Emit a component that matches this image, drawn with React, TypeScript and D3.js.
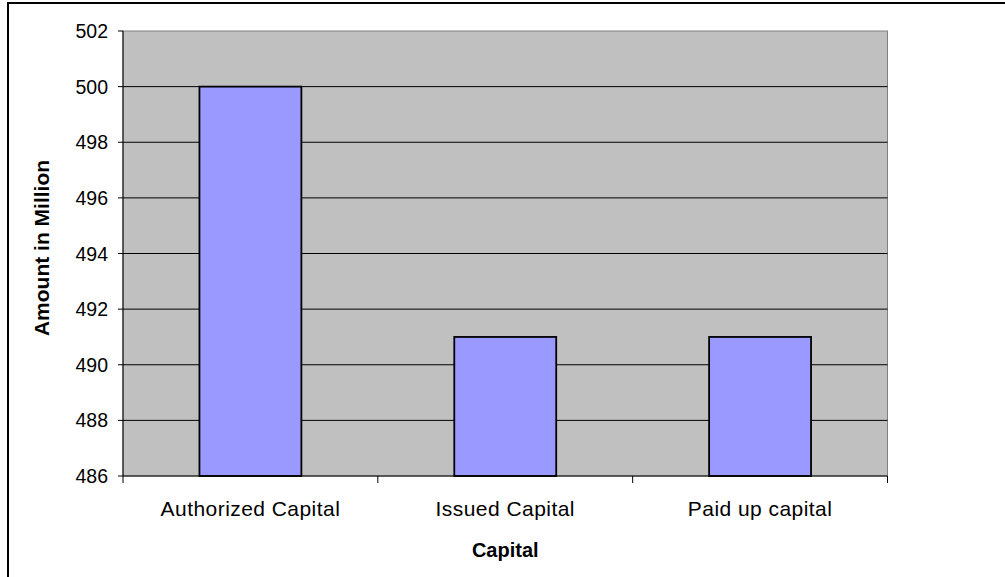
import React from "react";
import * as d3 from "d3";

const categories = ["Authorized Capital", "Issued Capital", "Paid up capital"];
const values = [500, 491, 491];
const yTicks = [486, 488, 490, 492, 494, 496, 498, 500, 502];
const yTitle = "Amount in Million";
const xTitle = "Capital";

const W = 1005;
const H = 577;
const plot = { left: 123, top: 31, right: 887.5, bottom: 476 };

export default function App() {
  const x = d3
    .scaleBand<string>()
    .domain(categories)
    .range([plot.left, plot.right])
    .padding(0);
  const y = d3.scaleLinear().domain([486, 502]).range([plot.bottom, plot.top]);
  const bw = x.bandwidth() * 0.4;
  const font = "Arial, 'Liberation Sans', sans-serif";
  const xBoundaries = [...categories.map((c) => x(c) as number), plot.right];

  return (
    <svg
      width={W}
      height={H}
      style={{ position: "absolute", left: 0, top: 0, background: "#fff" }}
      fontFamily={font}
    >
      <rect x={8} y={3} width={1100} height={700} fill="#fff" stroke="#000" strokeWidth={2} />
      <rect
        x={plot.left}
        y={plot.top}
        width={plot.right - plot.left}
        height={plot.bottom - plot.top}
        fill="#C0C0C0"
        stroke="#808080"
        strokeWidth={1}
      />
      {yTicks.map((t) => (
        <g key={t}>
          {t !== 486 && t !== 502 && (
            <line x1={plot.left} x2={plot.right} y1={y(t)} y2={y(t)} stroke="#000" strokeWidth={1} />
          )}
          <line x1={plot.left - 5} x2={plot.left} y1={y(t)} y2={y(t)} stroke="#000" strokeWidth={1} />
          <text x={108} y={y(t)} dy="0.36em" textAnchor="end" fontSize={19.5} fill="#000">
            {t}
          </text>
        </g>
      ))}
      {categories.map((c, i) => {
        const cx = (x(c) as number) + x.bandwidth() / 2;
        return (
          <g key={c}>
            <rect
              x={cx - bw / 2}
              y={y(values[i])}
              width={bw}
              height={y(486) - y(values[i])}
              fill="#9999FF"
              stroke="#000"
              strokeWidth={1.8}
            />
            <text x={cx} y={516} textAnchor="middle" fontSize={21} letterSpacing={0.45} fill="#000">
              {c}
            </text>
          </g>
        );
      })}
      <line x1={plot.left} x2={plot.left} y1={plot.top} y2={plot.bottom} stroke="#000" strokeWidth={1} />
      <line x1={plot.left} x2={plot.right} y1={plot.bottom} y2={plot.bottom} stroke="#000" strokeWidth={1} />
      {xBoundaries.map((b, i) => (
        <line key={i} x1={b} x2={b} y1={plot.bottom} y2={plot.bottom + 7} stroke="#000" strokeWidth={1} />
      ))}
      <text
        x={(plot.left + plot.right) / 2}
        y={557}
        textAnchor="middle"
        fontSize={20}
        fontWeight="bold"
        fill="#000"
      >
        {xTitle}
      </text>
      <text
        transform={`translate(49, 248) rotate(-90)`}
        textAnchor="middle"
        fontSize={21}
        fontWeight="bold"
        fill="#000"
      >
        {yTitle}
      </text>
    </svg>
  );
}
